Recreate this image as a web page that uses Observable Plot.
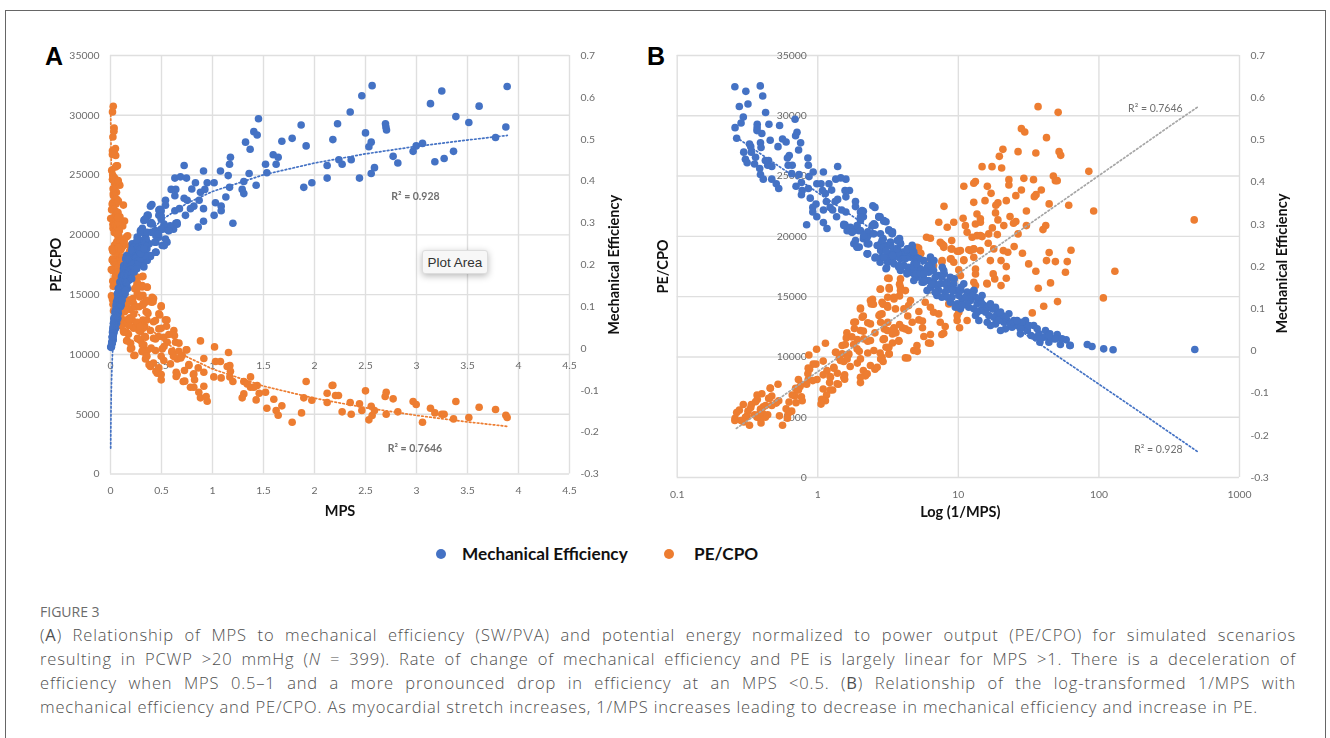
<!DOCTYPE html>
<html><head><meta charset="utf-8">
<script src="https://cdn.jsdelivr.net/npm/d3@7"></script>
<script src="https://cdn.jsdelivr.net/npm/@observablehq/plot@0.6"></script>
<style>
html,body{margin:0;padding:0;background:#fff}
#page{position:relative;width:1330px;height:738px;overflow:hidden;font-family:Lato,sans-serif}
#frame{position:absolute;left:5px;top:10px;width:1321px;height:760px;border:1px solid #666;box-sizing:border-box}
.panel{position:absolute;font:700 25px "Liberation Sans",sans-serif;color:#000;line-height:25px}
#tip{position:absolute;left:422px;top:250px;width:66px;height:24px;box-sizing:border-box;background:#f7f7f7;border:1px solid #ddd;border-radius:3px;box-shadow:0 2px 7px rgba(0,0,0,.28);font:13.5px/23px "Liberation Sans",sans-serif;color:#333;text-align:center;z-index:5}
#legend{position:absolute;left:0;top:544px;width:1330px;height:20px;font:700 17.2px/20px Lato,sans-serif;color:#111}
#legend i{position:absolute;top:5px;width:10px;height:10px;border-radius:50%}
#legend span{position:absolute;top:0;white-space:nowrap}
#figlabel{position:absolute;left:40px;top:604px;font:400 14px/16px "Open Sans",sans-serif;color:#6b6b6b}
#caption{position:absolute;left:40px;top:623px;width:1256px;font:300 16.5px/24px "Open Sans",sans-serif;letter-spacing:.85px;color:#4f4f4f}
#caption div{text-align:justify;text-align-last:justify;white-space:nowrap}
#caption div:last-child{text-align-last:left}
</style></head><body><div id="page"><div id="frame"></div></div>
<script>
// Values: mechanical efficiency series
const blueMps=[2.565,2.464,2.35,2.226,2.18,2.5,2.696,2.70,2.706,2.556,2.533,2.239,2.271,2.36,2.771,2.817,2.588,2.556,2.441,2.967,2.997,3.059,3.137,3.248,3.386,3.513,3.614,3.889,3.876,3.775,3.363,3.271,3.18,
1.451,1.869,1.405,1.438,1.324,1.369,1.68,1.781,1.918,1.176,1.167,1.595,1.644,1.52,1.624,2.124,1.533,1.359,1.078,.912,.722,1.154,.631,.686,.745,2.124,1.307,1.428,1.895,1.974,1.167,.833,.948,1.016,.797,.882,.925,1.291,1.307,1.131,.595,.64,.631,.722,.752,.539,.539,.869,1.029,1.085,1.085,.817,.784,.912,.392,.631,.676,1.016,.735,.912,1.2,.86,.64,.474,.474,.36,.327,
.0160,.0171,.0188,.0198,.0209,.0227,.0240,.0247,.0263,.0283,.0304,.0291,.0333,.0343,.0362,.0382,.0403,.0437,.0462,.0474,.0501,.053,.0544,.0574,.0623,.0607,.0656,.0696,.0678,.0755,.0735,.0776,.082,.0866,.0915,.0966,.0941,.102,.105,.111,.117,.124,.131,.138,.142,.114,.127,.150,.1625,.167,.181,.197,.191,.2075,.219,.202,.176,.1625,.158,.154,.213,.232,.226,.244,.265,.258,.280,.287,.303,.258,.318,.318,.349,.327,.287,
.367,.339,.312,.295,.399,.497,.497,.51,.554,.618,.653,.554,.525,.42,.445,.445,.392,.357,.357,.339,.32,.324,.272,.258,.272,.287,.265,.244,.231,.219,.231,.207,.2,.186,.166,.2,.157,.149,.13,.126,.176,.149,.107,.096,.12,.0775,
.392,.343,.441,.523,.572,.474,.507,.441,.327,.262,.294,.213,.294,.196,.36,.163,.262,
.0323,.0352,.0415,.045,.0488,.056,.0591,.0639,.0715,.0776,.0843,.0891,.0993,.1078,.1202,.1345,.1463,.158,.176,.186,.2075,.238,.2505,.2945,.0267,.0223,.053,.0696,.0755,
.00208,.00793,.00925,.0112,.0121,.0161,
.406,.484,.497,.653,.586,.525,.57,.497,.41,.368,.339,.312,.296,.445,.433,.471,.539,.525,.445,.378,.349,.339,.304,.261,.265,.225,.237,.304,.388,.339,.19,.358,.399,
.142,.124,.111,.0966,.0866,.0797,.0735,.0678,.0623,.0591,.0544,.0516,.0501,.0462,.0426,.0382,.0362,.0315,.0275,.026,.0227,.0203,.0183,.1463,.154,.176,.2075,.232,.258,.2945,.2726,.327,.197,.219,.2075,.176,.15,.138,.1202,.131,.0941,.105,.114];
const blueEff=[.628,.604,.565,.537,.499,.515,.537,.529,.522,.493,.482,.451,.44,.451,.459,.443,.432,.418,.407,.471,.484,.49,.585,.615,.554,.54,.579,.626,.529,.504,.471,.454,.446,
.549,.534,.518,.51,.493,.476,.495,.502,.484,.457,.44,.463,.457,.44,.44,.437,.42,.418,.424,.424,.437,.413,.407,.41,.407,.407,.399,.39,.385,.396,.385,.396,.396,.396,.381,.373,.38,.38,.37,.362,.38,.38,.365,.359,.354,.354,.342,.354,.348,.34,.329,.34,.334,.334,.34,.329,.334,.318,.318,.304,.299,.29,.299,.331,.318,.318,.306,
.013,.0262,.0152,.0389,.0286,.0207,.0483,.0325,.0207,.0325,.0365,.0602,.072,.0562,.0404,.0602,.072,.0878,.0523,.068,.0483,.0878,.064,.0997,.068,.0839,.1076,.0957,.1313,.0839,.1115,.143,.1194,.1392,.1589,.0997,.1234,.1115,.143,.1273,.155,.1392,.1273,.143,.155,.1747,.1905,.1629,.1668,.143,.1629,.1747,.1945,.1826,.1866,.2142,.1866,.1866,.2221,.2024,.2418,.2379,.1984,.2024,.1984,.2182,.226,.2379,.2497,.2537,.226,.2103,.2221,.1945,.2063,
.317,.3075,.285,.279,.301,.329,.309,.285,.285,.285,.3,.254,.246,.2775,.254,.23,.22,.254,.238,.222,.2143,.197,.2617,.254,.238,.222,.2,.222,.242,.234,.1866,.2064,.222,.1945,.198,.1827,.218,.214,.198,.1827,.163,.159,.171,.151,.151,.143,
.298,.266,.282,.29,.282,.266,.246,.23,.25,.266,.282,.25,.234,.218,.21,.202,.202,
.0483,.068,.0562,.072,.0839,.08,.0602,.0918,.072,.0997,.1036,.1273,.1313,.1589,.1273,.1589,.1747,.151,.1708,.1826,.1984,.2182,.234,.2142,.0404,.0404,.072,.1194,.1273,
.0033,.0026,.0049,.0104,.0152,.0128,
.344,.3327,.317,.297,.293,.297,.2814,.2853,.2972,.3185,.309,.2869,.2774,.2695,.2537,.2735,.2616,.2458,.23,.2498,.2616,.2458,.2577,.2577,.234,.2419,.234,.226,.2221,.2221,.2182,.2774,.2774,
.1313,.1589,.143,.143,.1115,.1313,.0918,.1115,.1036,.1115,.1036,.072,.0918,.08,.0641,.072,.0523,.0602,.0523,.0286,.0365,.0286,.0286,.1392,.1589,.1826,.1668,.1826,.1905,.226,.2418,.2379,.2063,.2221,.234,.2142,.1905,.1787,.1629,.1747,.1076,.1036,.1155];
// Values: PE/CPO series
const orangeMps=[.0271,.0195,.0356,.0337,.0236,.0482,.0376,.0511,.0281,.0192,.0187,.0678,.0576,.0492,.0118,.0437,.0437,.0342,.0292,.0211,.0204,.0198,.0622,.0585,.039,.0356,.0257,.028,.0288,.0646,.0523,.0541,.0456,.0226,.0164,.0109,.0328,.0544,.0429,.0523,.039,.0405,.0697,.0021,.0239,.025,.0328,.0573,.0475,.0376,.0528,.0608,.0678,.0613,.056,.0401,.0479,.0445,.035,.0226,.0158,.0497,.0592,.0236,.0204,.0168,.0316,.0456,.0281,.0173,.0077,.0565,.0551,.0456,.0221,.027,.0497,.0627,.0093,.0197,.0247,.0298,
.1265,.1378,.12,.1078,.0914,.0777,.0756,.0925,.0891,.0866,.0777,.0737,.0756,.0697,.0798,.0737,.0697,.1684,.158,.1115,.1305,.127,.1125,.1017,.0966,.0843,.0777,.0697,.1917,.185,.158,.1305,.1125,.0914,.0777,
.1345,.127,.111,.0993,.082,.0776,.0915,.114,.1078,.0993,.131,.15,.197,.186,.258,.318,.358,.31,.258,.238,.287,.318,.349,.172,.158,.191,.219,.226,.244,.28,.318,.349,.318,.336,.238,.25,.226,.213,.191,.15,.138,.1345,.124,.127,.158,.176,.158,.197,.2075,.265,.2945,.2945,.287,.336,.327,.31,.238,.349,.0755,.0755,.0776,.0755,.0623,.0993,.102,.0866,.102,.1078,.0966,.117,
.882,1.02,1.157,.915,1.03,1.078,1.144,1.17,1.176,.86,.915,1.013,1.085,1.17,1.2,1.307,1.373,1.34,1.373,1.438,1.405,1.458,1.52,1.307,1.291,1.428,1.601,1.533,1.624,1.68,1.644,1.781,1.873,1.918,1.895,1.974,2.124,2.124,2.173,
2.18,2.235,2.206,2.271,2.36,2.35,2.441,2.464,2.5,2.533,2.565,2.556,2.588,2.703,2.693,2.771,2.703,2.817,2.967,2.997,3.059,3.137,3.18,3.248,3.271,3.363,3.386,3.513,3.614,3.775,3.876,3.889,
.408,.497,.402,.474,.539,.549,.36,.311,.311,.262,.262,.343,.36,.441,.392,.474,.523,.621,.627,.572,.637,.556,.507,.605,.67,.742,.703,.654,.588,.768,.725,.644,.644,.713,.817,.824,.784,.817,.866,.882,.938,.948,.915,.497,.458,.392,.474,.523,.343,.441,.36,.294,.343,.441,.229,.196,.163,.131,.18,.278,.229,.18,.262,.098,
.497,.422,.417,.554,.483,.497,.422,.367,.32,.287,.258,.357,.32,.287,.265,.339,.312,.312,.357,.399,.422,.47,.525,.497,.445,.422,.378,.497,.601,.618,.671,.748,.689,.769,.812,.728,.653];
const orangePe=[30756,30284,28932,28658,28186,27216,27025,26636,26918,27025,26719,25782,25782,25674,25392,24704,24265,24812,24704,25011,24621,24621,24149,23568,23378,23850,23850,23461,23295,22963,22773,22574,22963,22690,22574,22109,22109,21944,21637,21363,21222,21082,21164,21363,20891,20559,20891,20700,20891,20203,20145,20203,19979,19423,18959,19150,18818,18677,18594,18653,18843,17989,17989,17989,17906,17906,17716,17492,17102,17019,17102,16887,16472,16522,16141,15693,15917,16110,14894,14590,14200,13650,
22490,21165,20750,21165,24150,24400,24540,21500,20890,20340,22820,21860,21030,21450,19920,20060,20060,19920,19840,19650,19370,19090,18960,18760,18820,18880,18960,18820,19040,18590,18130,17990,18130,18050,18260,
19509,19233,18956,18763,18818,18956,17989,18127,17851,17216,17851,17575,19094,18542,16470,16525,15640,15640,15779,15503,14950,14950,14535,14535,14121,13762,14674,14259,13983,13983,14121,13568,12878,12325,12325,12408,12187,12878,13071,13707,13568,12878,12518,11966,11855,11689,11137,10944,10529,11303,12187,11911,12408,11496,10805,10253,9921,9976,17298,16884,16193,15917,16055,13707,13016,13016,13430,16331,16746,14398,
11132,10631,10157,9655,9404,9404,8986,9070,8596,8875,8513,8122,8038,8122,7732,7732,8122,7537,7258,7398,7258,6757,6840,6701,6367,6199,6255,5502,5307,5698,4917,4332,5112,7732,6367,6172,6757,5976,7398,
7426,6562,6562,5196,5001,5976,5865,5307,6952,4527,4890,5670,5307,6840,6478,6283,5001,5196,6060,5809,4332,5503,5112,5001,5001,4610,6060,4722,5586,5391,4917,4722,
14783,14059,14365,13390,12888,12359,15619,16511,15759,16037,15062,14365,13529,12833,11996,12136,11439,11996,11578,11662,11021,11021,10463,10185,10268,10380,9906,9627,9209,9070,8652,8513,8150,7732,8373,7872,7258,7258,6840,6367,6478,6088,7342,7872,8429,8986,8875,9488,9627,10324,10324,11160,11439,11300,9906,10463,11160,11857,12415,11996,13390,12973,12694,12415,
13983,14673,14397,12877,13292,12187,12739,13430,14259,14811,15502,12877,12187,12325,11358,11496,10805,10253,9838,10529,11358,11496,10667,9838,8595,9285,9147,8318,10253,9838,10943,10391,9700,9147,8318,7766,8318];
// Dotted trend lines
const trendMps=[.002,.003,.005,.0075,.01,.015,.02,.03,.05,.075,.1,.15,.2,.3,.5,.75,1,1.5,2,2.5,3,3.5,3.89];
const trendEff=[-.238,-.198,-.147,-.107,-.079,-.039,-.011,.029,.08,.12,.148,.188,.216,.256,.307,.347,.375,.415,.443,.465,.483,.498,.509];
const trendPe=[30700,29296,27490,26058,25042,23611,22595,21163,19358,17927,16911,15480,14464,13032,11227,9796,8780,7349,6333,5544,4901,4357,3983];
// Tick labels
const peTicks=[0,5000,10000,15000,20000,25000,30000,35000];
const effTicks=[-.3,-.2,-.1,0,.1,.2,.3,.4,.5,.6,.7];
const mpsTicks=[0,.5,1,1.5,2,2.5,3,3.5,4,4.5];
const invTicks=[.1,1,10,100,1000];

const BLUE="#4472c4",ORANGE="#ed7d31",GREY_TREND="#a5a5a5",GRID="#dfdfdf",TEXT="#6a6a6a",RSQ="#707070";
const blue=blueMps.map((m,i)=>({m,v:blueEff[i]}));
const orange=orangeMps.map((m,i)=>({m,v:orangePe[i]}));
const tBlue=trendMps.map((m,i)=>({m,v:trendEff[i]}));
const tOrange=trendMps.map((m,i)=>({m,v:trendPe[i]}));
const str=d=>String(d);
const page=document.getElementById("page");
const style=(left)=>({position:"absolute",left:left+"px",top:"0px",background:"transparent",fontFamily:"Lato,sans-serif",color:TEXT,fontSize:"10.4px",filter:"blur(0.35px)"});
function add(o){const n=Plot.plot(o);page.appendChild(n);}
const dot=(fill,xf)=>({x:xf,y:"v",r:3.8,fill,stroke:"none"});
const trend=(stroke,xf)=>({x:xf,y:"v",stroke,strokeWidth:1.7,strokeDasharray:"1.6 2.4"});
const bold=(t,o)=>Plot.text([t],{fontWeight:700,fontSize:14.5,fill:"#111",textAnchor:"middle",...o});
const rsq=(t,x,y,w)=>Plot.text([t],{x:()=>x,y:()=>y,fontWeight:w,fontSize:10.5,fill:RSQ});

// ---- Panel A
const A={width:640,height:530,marginLeft:110,marginRight:71,marginTop:55,marginBottom:56.5,style:style(0),
  x:{type:"linear",domain:[0,4.5],axis:null}};
const ax=d=>d.m;
add({...A,y:{domain:[0,35000],axis:null},marks:[
  Plot.gridX(mpsTicks,{stroke:GRID,strokeOpacity:1,strokeWidth:1.4}),
  Plot.gridY(peTicks,{stroke:GRID,strokeOpacity:1,strokeWidth:1.4}),
  Plot.axisX(mpsTicks,{anchor:"bottom",tickSize:0,tickPadding:13,tickFormat:str,label:null}),
  Plot.axisY(peTicks,{anchor:"left",tickSize:0,tickPadding:11,tickFormat:str,label:null}),
  Plot.text(mpsTicks,{x:d=>d,y:()=>10500,dy:17,text:str,fill:TEXT}),
  Plot.dot(orange,dot(ORANGE,ax)),
  Plot.line(tOrange,trend(ORANGE,ax)),
  rsq("R² = 0.7646",2.985,2130,700),
  bold("PE/CPO",{frameAnchor:"left",rotate:-90,dx:-54}),
  bold("MPS",{frameAnchor:"bottom",dy:42})
]});
add({...A,y:{domain:[-.3,.7],axis:null},marks:[
  Plot.axisY(effTicks,{anchor:"right",tickSize:0,tickPadding:11,tickFormat:str,label:null}),
  Plot.dot(blue,dot(BLUE,ax)),
  Plot.line(tBlue,trend(BLUE,ax)),
  rsq("R² = 0.928",2.99,.363,700),
  bold("Mechanical Efficiency",{frameAnchor:"right",rotate:-90,dx:45})
]});

// ---- Panel B
const B={width:690,height:530,marginLeft:36.7,marginRight:91,marginTop:55,marginBottom:53,style:style(640),
  x:{type:"log",domain:[.1,1000],axis:null}};
const bx=d=>1/d.m;
add({...B,y:{domain:[0,35000],axis:null},marks:[
  Plot.gridX(invTicks,{stroke:GRID,strokeOpacity:1,strokeWidth:1.4}),
  Plot.gridY(peTicks,{stroke:GRID,strokeOpacity:1,strokeWidth:1.4}),
  Plot.axisX(invTicks,{anchor:"bottom",tickSize:0,tickPadding:13,tickFormat:str,label:null}),
  Plot.text(peTicks,{x:()=>1,y:d=>d,dx:-11,textAnchor:"end",text:str,fill:TEXT}),
  Plot.dot(orange,dot(ORANGE,bx)),
  Plot.line(tOrange,trend(GREY_TREND,bx)),
  rsq("R² = 0.7646",252,30590,400),
  bold("PE/CPO",{frameAnchor:"left",rotate:-90,dx:-14}),
  bold("Log (1/MPS)",{frameAnchor:"bottom",dx:2,dy:39})
]});
add({...B,y:{domain:[-.3,.7],axis:null},marks:[
  Plot.axisY(effTicks,{anchor:"right",tickSize:0,tickPadding:11,tickFormat:str,label:null}),
  Plot.dot(blue,dot(BLUE,bx)),
  Plot.line(tBlue,trend(BLUE,bx)),
  rsq("R² = 0.928",265,-.234,400),
  bold("Mechanical Efficiency",{frameAnchor:"right",rotate:-90,dx:43,dy:-3})
]});

// ---- Labels, legend, caption
function html(tag,attrs,inner){const e=document.createElement(tag);Object.assign(e,attrs);if(inner!=null)e.innerHTML=inner;page.appendChild(e);return e;}
const pa=html("div",{className:"panel"},"A");pa.style.left="45px";pa.style.top="44px";
const pb=html("div",{className:"panel"},"B");pb.style.left="647px";pb.style.top="44px";
html("div",{id:"tip"},"Plot Area");
html("div",{id:"legend"},`<i style="left:436px;background:${BLUE}"></i><span style="left:462px">Mechanical Efficiency</span><i style="left:664px;background:${ORANGE}"></i><span style="left:694px">PE/CPO</span>`);
html("div",{id:"figlabel"},"FIGURE 3");
html("div",{id:"caption"},[
 "(<b>A</b>) Relationship of MPS to mechanical efficiency (SW/PVA) and potential energy normalized to power output (PE/CPO) for simulated scenarios",
 "resulting in PCWP &gt;20 mmHg (<i>N</i> = 399). Rate of change of mechanical efficiency and PE is largely linear for MPS &gt;1. There is a deceleration of",
 "efficiency when MPS 0.5–1 and a more pronounced drop in efficiency at an MPS &lt;0.5. (<b>B</b>) Relationship of the log-transformed 1/MPS with",
 "mechanical efficiency and PE/CPO. As myocardial stretch increases, 1/MPS increases leading to decrease in mechanical efficiency and increase in PE."
].map(l=>`<div>${l}</div>`).join(""));
</script></body></html>
